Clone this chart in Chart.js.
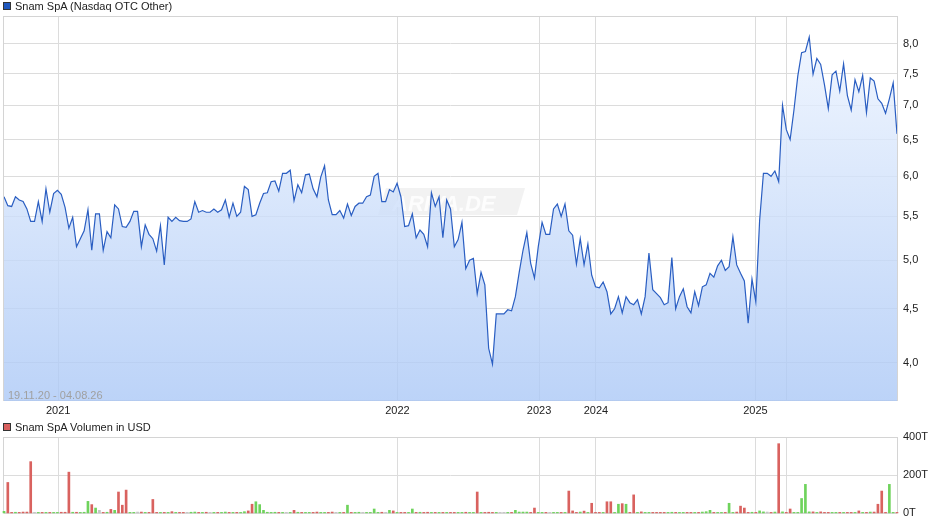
<!DOCTYPE html>
<html>
<head>
<meta charset="utf-8">
<script src="https://cdn.jsdelivr.net/npm/chart.js@4.4.1/dist/chart.umd.min.js"></script>
<style>
  body { margin: 0; background: #fff; font-family: "Liberation Sans", Arial, sans-serif; }
  #wrap { position: relative; width: 940px; height: 526px; overflow: hidden; }
  canvas { position: absolute; left: 0; }
  .box { position: absolute; left: 3px; width: 6px; height: 6px; border: 1px solid #333; }
  .lbl { position: absolute; left: 15px; font-size: 11px; line-height: 12px; color: #222; white-space: nowrap; }
  #range { position: absolute; left: 8px; top: 389px; font-size: 11px; line-height: 12px; color: #a0a0a0; }
</style>
</head>
<body>
<div id="wrap">
  <canvas id="priceChart" width="940" height="420" style="top:0"></canvas>
  <canvas id="volChart" width="940" height="106" style="top:420px"></canvas>
  <div class="box" style="top:2px;background:#1f57bd"></div>
  <div class="lbl" style="top:0">Snam SpA (Nasdaq OTC Other)</div>
  <div class="box" style="top:423px;background:#d9605e"></div>
  <div class="lbl" style="top:421px">Snam SpA Volumen in USD</div>
  <div id="range">19.11.20 - 04.08.26</div>
</div>
<script>
// weekly-ish closing prices (USD)
const prices = [
  5.74, 5.63, 5.62, 5.74, 5.70, 5.68, 5.59, 5.44, 5.44, 5.68,
  5.44, 5.84, 5.55, 5.78, 5.82, 5.77, 5.61, 5.36, 5.49, 5.15,
  5.24, 5.33, 5.58, 5.11, 5.53, 5.53, 5.11, 5.32, 5.25, 5.64,
  5.59, 5.38, 5.37, 5.44, 5.56, 5.56, 5.15, 5.40, 5.29, 5.24,
  5.10, 5.39, 4.95, 5.49, 5.44, 5.49, 5.45, 5.44, 5.44, 5.47,
  5.68, 5.55, 5.57, 5.55, 5.55, 5.59, 5.55, 5.58, 5.70, 5.49,
  5.66, 5.50, 5.55, 5.87, 5.83, 5.50, 5.52, 5.66, 5.78, 5.79,
  5.93, 5.94, 5.81, 6.04, 6.04, 6.08, 5.69, 5.89, 5.79, 6.02,
  6.03, 5.84, 5.74, 5.99, 6.14, 5.70, 5.52, 5.52, 5.57, 5.48,
  5.65, 5.51, 5.62, 5.66, 5.66, 5.74, 5.76, 6.00, 6.04, 5.68,
  5.68, 5.83, 5.80, 5.91, 5.74, 5.38, 5.39, 5.53, 5.25, 5.34,
  5.29, 5.15, 5.79, 5.62, 5.74, 5.25, 5.70, 5.59, 5.15, 5.23,
  5.43, 4.91, 5.00, 5.02, 4.65, 4.87, 4.74, 4.13, 3.99, 4.45,
  4.45, 4.45, 4.49, 4.48, 4.62, 4.87, 5.11, 5.31, 4.97, 4.81,
  5.15, 5.43, 5.29, 5.29, 5.59, 5.65, 5.50, 5.65, 5.33, 5.28,
  4.96, 5.24, 4.95, 5.18, 4.84, 4.72, 4.71, 4.77, 4.67, 4.45,
  4.50, 4.62, 4.46, 4.62, 4.56, 4.54, 4.59, 4.45, 4.62, 5.08,
  4.69, 4.65, 4.61, 4.54, 4.56, 5.03, 4.50, 4.62, 4.70, 4.52,
  4.46, 4.67, 4.53, 4.72, 4.74, 4.86, 4.82, 4.94, 5.00, 4.89,
  4.93, 5.26, 4.95, 4.86, 4.78, 4.36, 4.80, 4.57, 5.45, 6.04,
  6.04, 6.00, 6.07, 5.93, 7.00, 6.64, 6.50, 6.93, 7.46, 7.85,
  7.87, 8.12, 7.49, 7.75, 7.65, 7.32, 6.95, 7.48, 7.54, 7.22,
  7.66, 7.15, 6.93, 7.40, 7.21, 7.47, 6.89, 7.43, 7.38, 7.10,
  7.03, 6.88, 7.10, 7.35, 6.58
];

// volume in thousand USD (T)
const volumes = [
  11, 162, 4, 6, 4, 7, 7, 271, 4, 4,
  4, 5, 4, 4, 5, 6, 6, 216, 6, 6,
  5, 6, 63, 46, 28, 16, 4, 6, 21, 16,
  112, 43, 122, 4, 5, 7, 7, 5, 4, 73,
  4, 5, 5, 5, 9, 4, 4, 4, 5, 6,
  7, 5, 4, 6, 4, 4, 4, 4, 7, 4,
  4, 4, 4, 9, 13, 48, 61, 46, 16, 6,
  5, 6, 4, 4, 4, 4, 16, 6, 4, 5,
  5, 4, 7, 4, 5, 5, 7, 4, 5, 4,
  43, 4, 4, 6, 4, 4, 4, 23, 4, 6,
  4, 16, 13, 4, 4, 4, 4, 23, 4, 6,
  4, 6, 5, 4, 5, 4, 4, 4, 4, 4,
  4, 6, 4, 4, 112, 4, 4, 6, 4, 4,
  4, 4, 4, 4, 16, 7, 7, 7, 4, 28,
  4, 4, 4, 4, 4, 4, 4, 4, 117, 13,
  4, 7, 12, 4, 53, 4, 4, 4, 61, 61,
  4, 48, 51, 48, 4, 97, 4, 8, 4, 4,
  4, 5, 4, 4, 4, 6, 4, 4, 4, 4,
  4, 4, 4, 7, 9, 16, 4, 4, 4, 4,
  53, 4, 7, 38, 28, 4, 6, 4, 13, 8,
  7, 4, 7, 365, 8, 4, 23, 4, 4, 78,
  152, 8, 8, 4, 8, 4, 4, 4, 4, 4,
  4, 4, 4, 4, 13, 4, 4, 7, 7, 48,
  117, 4, 152, 4, 4
];

// x-axis grid positions (point index) and their labels
const yearPos = [14.2, 103.1, 140.2, 155.1, 196.9, 205];
const yearLabels = ['2021', '2022', '2023', '2024', '2025', ''];

const priceTicks = [4.0, 4.5, 5.0, 5.5, 6.0, 6.5, 7.0, 7.5, 8.0];
const volTicks = [0, 200, 400];

const gridColor = '#dcdcdc';
const font = { family: '"Liberation Sans", Arial, sans-serif', size: 11 };

Chart.defaults.animation = false;
Chart.defaults.font.family = font.family;

const barColors = prices.map((p, i) => {
    if (i === 0 || p > prices[i - 1]) return '#6fd35c';
    if (p < prices[i - 1]) return '#d9625f';
    return '#c4c4c4';
});

// thin frame around the plot area + faint watermark
const framePlugin = {
    id: 'frame',
    beforeDatasetsDraw(chart, args, opts) {
        const { ctx, chartArea: a } = chart;
        ctx.save();
        ctx.strokeStyle = '#d4d4d4';
        ctx.lineWidth = 1;
        ctx.strokeRect(a.left - 0.5, a.top + 0.5, a.right - a.left + 1, a.bottom - a.top - 1);
        if (opts.watermark) {
            ctx.fillStyle = 'rgba(205,205,205,0.25)';
            ctx.beginPath();
            ctx.moveTo(386, 188);
            ctx.lineTo(525, 188);
            ctx.lineTo(517, 215);
            ctx.lineTo(378, 215);
            ctx.closePath();
            ctx.fill();
            ctx.font = 'italic bold 22px "Liberation Sans", Arial, sans-serif';
            ctx.fillStyle = 'rgba(255,255,255,0.85)';
            ctx.fillText('ARIVA.DE', 392, 211);
        }
        ctx.restore();
    }
};

new Chart(document.getElementById('priceChart'), {
    type: 'line',
    data: {
        datasets: [{
            data: prices.map((p, i) => ({ x: i, y: p })),
            borderColor: '#2a5ec2',
            borderWidth: 1.2,
            pointRadius: 0,
            tension: 0,
            fill: 'start',
            backgroundColor: (c) => {
                const a = c.chart.chartArea;
                if (!a) return 'rgba(200,220,250,0.8)';
                const g = c.chart.ctx.createLinearGradient(0, a.top, 0, a.bottom);
                g.addColorStop(0, 'rgba(240,246,255,0.8)');
                g.addColorStop(1, 'rgba(171,200,246,0.8)');
                return g;
            }
        }]
    },
    options: {
        responsive: false,
        devicePixelRatio: 1,
        layout: { padding: { left: 4, top: 16, right: 0, bottom: 0 } },
        plugins: { legend: { display: false }, tooltip: { enabled: false }, frame: { watermark: true } },
        scales: {
            x: {
                type: 'linear',
                min: 0,
                max: prices.length - 1,
                afterBuildTicks: (s) => { s.ticks = yearPos.map(v => ({ value: v })); },
                afterFit: (s) => { s.height = 19; },
                grid: { color: gridColor, drawTicks: false },
                border: { display: false },
                ticks: {
                    autoSkip: false,
                    maxRotation: 0,
                    padding: 3,
                    color: '#222',
                    font: font,
                    callback: (v, i) => yearLabels[i]
                }
            },
            y: {
                type: 'logarithmic',
                position: 'right',
                min: 3.683,
                max: 8.5,
                afterBuildTicks: (s) => { s.ticks = priceTicks.map(v => ({ value: v })); },
                afterFit: (s) => { s.width = 43; },
                grid: { color: gridColor, drawTicks: false },
                border: { display: false },
                ticks: {
                    padding: 6,
                    color: '#222',
                    font: font,
                    callback: (v) => Number(v).toFixed(1).replace('.', ',')
                }
            }
        }
    },
    plugins: [framePlugin]
});

new Chart(document.getElementById('volChart'), {
    type: 'bar',
    data: {
        datasets: [{
            data: volumes.map((v, i) => ({ x: i, y: v })),
            backgroundColor: barColors,
            barThickness: 2,
            minBarLength: 1,
            clip: false
        }]
    },
    options: {
        responsive: false,
        devicePixelRatio: 1,
        layout: { padding: { left: 4, top: 17, right: 0, bottom: 9 } },
        plugins: { legend: { display: false }, tooltip: { enabled: false }, frame: { watermark: false } },
        scales: {
            x: {
                type: 'linear',
                offset: false,
                min: 0,
                max: volumes.length - 1,
                afterBuildTicks: (s) => { s.ticks = yearPos.map(v => ({ value: v })); },
                afterFit: (s) => { s.height = 0; },
                grid: { color: gridColor, drawTicks: false, offset: false },
                border: { display: false },
                ticks: { display: false }
            },
            y: {
                position: 'right',
                min: 0,
                max: 400,
                afterBuildTicks: (s) => { s.ticks = volTicks.map(v => ({ value: v })); },
                afterFit: (s) => { s.width = 43; },
                grid: { color: gridColor, drawTicks: false },
                border: { display: false },
                ticks: {
                    padding: 6,
                    color: '#222',
                    font: font,
                    callback: (v) => v + 'T'
                }
            }
        }
    },
    plugins: [framePlugin]
});
</script>
</body>
</html>
